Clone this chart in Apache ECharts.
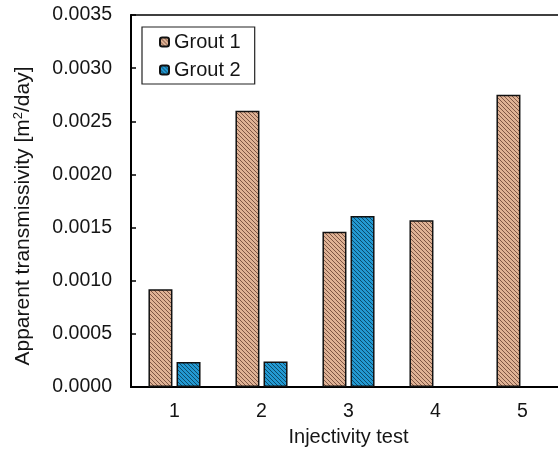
<!DOCTYPE html>
<html>
<head>
<meta charset="utf-8">
<script src="https://cdn.jsdelivr.net/npm/echarts@6/dist/echarts.min.js"></script>
<style>html,body{margin:0;padding:0;background:#fff}#c{width:558px;height:450px}</style>
</head>
<body>
<div id="c"></div>
<script>
var categories = ['1', '2', '3', '4', '5'];
var grout1 = [0.00092, 0.00260, 0.00146, 0.00157, 0.00275];
var grout2 = [0.000235, 0.00024, 0.00161, null, null];
var seriesNames = ['Grout 1', 'Grout 2'];

function hatch(base, stripe) {
  var c = document.createElement('canvas');
  c.width = 4; c.height = 4;
  var ctx = c.getContext('2d');
  ctx.fillStyle = base; ctx.fillRect(0, 0, 4, 4);
  ctx.fillStyle = stripe;
  for (var i = 0; i < 4; i++) ctx.fillRect(i, i, 1, 1);
  return { image: c, repeat: 'repeat' };
}
var tan = hatch('#dfb295', '#7f5644');
var blue = hatch('#2399d2', '#0b4c6d');

var chart = echarts.init(document.getElementById('c'), null, {renderer: 'canvas'});
var font = 'Liberation Sans, Arial, sans-serif';
var txt = '#151515';
chart.setOption({
  animation: false,
  backgroundColor: '#fff',
  textStyle: { fontFamily: font },
  grid: { left: 131, right: -8, top: 15, bottom: 63, show: true, borderColor: '#000', borderWidth: 1.5,
          containLabel: false, outerBoundsMode: 'none' },
  legend: {
    data: seriesNames,
    orient: 'vertical',
    left: 142, top: 27,
    backgroundColor: '#fff',
    borderColor: '#222', borderWidth: 1.2,
    padding: [5, 14, 4, 17],
    itemWidth: 9, itemHeight: 9, itemGap: 8,
    textStyle: { fontSize: 20, color: txt, fontFamily: font }
  },
  xAxis: {
    type: 'category',
    data: categories,
    name: 'Injectivity test',
    nameLocation: 'middle',
    nameGap: 40,
    nameTextStyle: { fontSize: 20, color: txt, fontFamily: font },
    axisLine: { lineStyle: { color: '#000', width: 2 } },
    axisTick: { show: false },
    axisLabel: { fontSize: 19.5, color: txt, margin: 15, fontFamily: font }
  },
  yAxis: {
    type: 'value',
    min: 0, max: 0.0035, interval: 0.0005,
    name: '{a|Apparent transmissivity [m}{s|2}{a|/day]}',
    nameLocation: 'middle',
    nameGap: 97,
    nameRotate: 90,
    nameTextStyle: {
      padding: [0, 30, 0, 0],
      rich: {
        a: { fontSize: 21, color: txt, fontFamily: font },
        s: { fontSize: 13, color: txt, fontFamily: font, verticalAlign: 'top', padding: [0, 0, 9, 0] }
      }
    },
    axisLine: { show: true, lineStyle: { color: '#000', width: 2 } },
    axisTick: { show: true, inside: true, length: 5, lineStyle: { color: '#000', width: 1.5 } },
    splitLine: { show: false },
    axisLabel: { fontSize: 19.5, color: txt, margin: 19, fontFamily: font,
      formatter: function (v) { return v.toFixed(4); } }
  },
  series: [
    { name: seriesNames[0], type: 'bar', data: grout1, barWidth: 24, barGap: '17%',
      itemStyle: { color: tan, borderColor: '#111', borderWidth: 1.5 } },
    { name: seriesNames[1], type: 'bar', data: grout2, barWidth: 24, barGap: '17%',
      itemStyle: { color: blue, borderColor: '#111', borderWidth: 1.5 } }
  ]
});
</script>
</body>
</html>
